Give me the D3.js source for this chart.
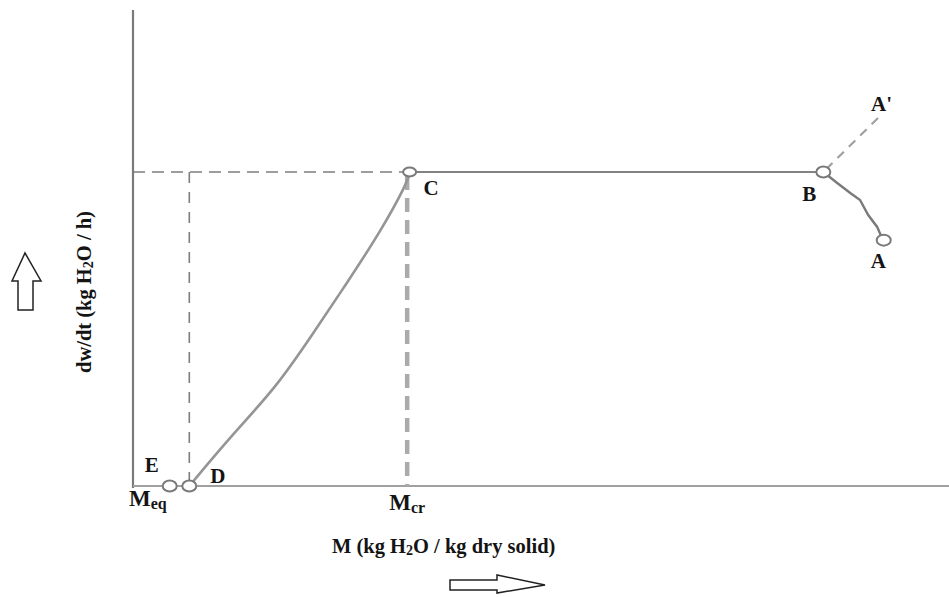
<!DOCTYPE html>
<html>
<head>
<meta charset="utf-8">
<script src="https://cdn.jsdelivr.net/npm/d3@7/dist/d3.min.js"></script>
<style>
  html, body { margin: 0; padding: 0; background: #fff; }
  svg { display: block; }
  text { font-family: "Liberation Serif", "DejaVu Serif", serif; font-weight: bold; fill: #141414; }
</style>
</head>
<body>
<svg id="chart" width="949" height="597"></svg>
<script>
// Drying-rate curve: rate (kg H2O/h) against moisture content M (kg H2O / kg dry solid).
// Moisture in relative units (0-100 across the axis), rate relative to the constant rate (= 1).

// falling-rate period, D -> C
const fallingM    = [6.9, 11.9, 17.6, 22.1, 26.2, 30.3, 33.6, 33.9];
const fallingRate = [0.0, 0.156, 0.315, 0.487, 0.646, 0.809, 0.965, 1.0];

// warm-up period, A -> B (solid heats up, rate rises)
const warmupM    = [91.9, 91.2, 90.1, 89.1, 87.9, 86.3, 84.6];
const warmupRate = [0.783, 0.825, 0.863, 0.911, 0.933, 0.965, 1.0];

// cold-solid start, A' -> B
const coolM    = [91.3, 84.6];
const coolRate = [1.172, 1.0];

// constant-rate period, C -> B
const constantM    = [33.9, 84.6];
const constantRate = [1.0, 1.0];

// named state points
const pointNames = ["E", "D", "C", "B", "A"];
const pointM     = [4.5, 6.9, 33.9, 84.6, 92.0];
const pointRate  = [0.0, 0.0, 1.0, 1.0, 0.783];

const criticalM    = 33.6;   // M_cr
const equilibriumM = 6.9;    // M_eq guide line
const constantLevel = 1.0;

const svg = d3.select("#chart");

const x = d3.scaleLinear().domain([0, 100]).range([133, 949]);
const y = d3.scaleLinear().domain([0, 1.5]).range([486, 15]);

// axes (plain lines, no ticks)
svg.append("line")
  .attr("x1", x(0)).attr("x2", x(0))
  .attr("y1", y(0) + 2).attr("y2", 10)
  .attr("stroke", "#7a7a7a").attr("stroke-width", 2.2);
svg.append("line")
  .attr("x1", x(0)).attr("x2", x(100))
  .attr("y1", y(0)).attr("y2", y(0))
  .attr("stroke", "#a0a0a0").attr("stroke-width", 2);

// dashed guide: constant rate level from the axis to C
svg.append("line")
  .attr("x1", x(0)).attr("x2", x(criticalM))
  .attr("y1", y(constantLevel)).attr("y2", y(constantLevel))
  .attr("stroke", "#7d7d7d").attr("stroke-width", 1.6)
  .attr("stroke-dasharray", "12,7");

// dashed guide down at D
svg.append("line")
  .attr("x1", x(equilibriumM)).attr("x2", x(equilibriumM))
  .attr("y1", y(constantLevel)).attr("y2", y(0))
  .attr("stroke", "#7d7d7d").attr("stroke-width", 1.6)
  .attr("stroke-dasharray", "11,9");

// double dashed guide down at M_cr
svg.append("line")
  .attr("x1", x(criticalM)).attr("x2", x(criticalM))
  .attr("y1", y(constantLevel) + 4).attr("y2", y(0))
  .attr("stroke", "#ababab").attr("stroke-width", 4.5)
  .attr("stroke-dasharray", "14,8");

const line = d3.line().x(d => x(d[0])).y(d => y(d[1]));
const smooth = d3.line().x(d => x(d[0])).y(d => y(d[1])).curve(d3.curveBasis);
const zip = (a, b) => a.map((v, i) => [v, b[i]]);

// constant-rate segment
svg.append("path").datum(zip(constantM, constantRate))
  .attr("d", line).attr("fill", "none")
  .attr("stroke", "#828282").attr("stroke-width", 2);

// falling-rate segment
svg.append("path").datum(zip(fallingM, fallingRate))
  .attr("d", smooth).attr("fill", "none")
  .attr("stroke", "#959595").attr("stroke-width", 2.6);

// warm-up segment
svg.append("path").datum(zip(warmupM, warmupRate))
  .attr("d", line).attr("fill", "none")
  .attr("stroke", "#7a7a7a").attr("stroke-width", 2.4);

// A' -> B dashed
svg.append("path").datum(zip(coolM, coolRate))
  .attr("d", line).attr("fill", "none")
  .attr("stroke", "#a0a0a0").attr("stroke-width", 2.2)
  .attr("stroke-dasharray", "9,7");

// state point markers
const pts = pointNames.map((n, i) => ({ name: n, m: pointM[i], r: pointRate[i] }));
svg.selectAll("ellipse.pt").data(pts).enter().append("ellipse")
  .attr("class", "pt")
  .attr("cx", d => x(d.m)).attr("cy", d => y(d.r))
  .attr("rx", d => d.name === "C" ? 6.5 : 7)
  .attr("ry", d => d.name === "C" ? 4.5 : 5.5)
  .attr("fill", "#fff").attr("stroke", "#7a7a7a").attr("stroke-width", 2);

// point letters
const labelOffset = { E: [-25, -14], D: [21, -3], C: [14, 23], B: [-21, 29], A: [-13, 28] };
svg.selectAll("text.pt").data(pts).enter().append("text")
  .attr("class", "pt")
  .attr("x", d => x(d.m) + labelOffset[d.name][0])
  .attr("y", d => y(d.r) + labelOffset[d.name][1])
  .attr("font-size", 21)
  .text(d => d.name);

// A' letter at the end of the dashed branch
svg.append("text")
  .attr("x", x(coolM[0]) - 7).attr("y", y(coolRate[0]) - 7)
  .attr("font-size", 21).text("A'");

// M_eq and M_cr labels under the axis
function subLabel(xp, yp, main, sub) {
  const t = svg.append("text").attr("x", xp).attr("y", yp).attr("font-size", 23);
  t.append("tspan").text(main);
  t.append("tspan").attr("font-size", 16).attr("dy", 3).text(sub);
}
subLabel(x(0) - 4, y(0) + 20, "M", "eq");
subLabel(x(criticalM) - 18, y(0) + 24, "M", "cr");

// x-axis title
const xt = svg.append("text")
  .attr("x", 332).attr("y", 553)
  .attr("font-size", 20.5);
xt.append("tspan").text("M (kg H");
xt.append("tspan").attr("font-size", 14).attr("dy", 2).text("2");
xt.append("tspan").attr("dy", -2).text("O / kg dry solid)");

// y-axis title
const yt = svg.append("text")
  .attr("transform", "translate(91,373) rotate(-90)")
  .attr("font-size", 20.5);
yt.append("tspan").text("dw/dt (kg H");
yt.append("tspan").attr("font-size", 14).attr("dy", 2).text("2");
yt.append("tspan").attr("dy", -2).text("O / h)");

// direction arrows (outlined)
svg.append("path")
  .attr("d", "M18,310 L18,281 L12,281 L25,253 L41,281 L33,281 L33,310 Z")
  .attr("fill", "#fff").attr("stroke", "#222").attr("stroke-width", 1.5);
svg.append("path")
  .attr("d", "M450,580 L497,580 L497,575 L545,585 L497,593 L497,590 L450,590 Z")
  .attr("fill", "#fff").attr("stroke", "#222").attr("stroke-width", 1.5);
</script>
</body>
</html>
